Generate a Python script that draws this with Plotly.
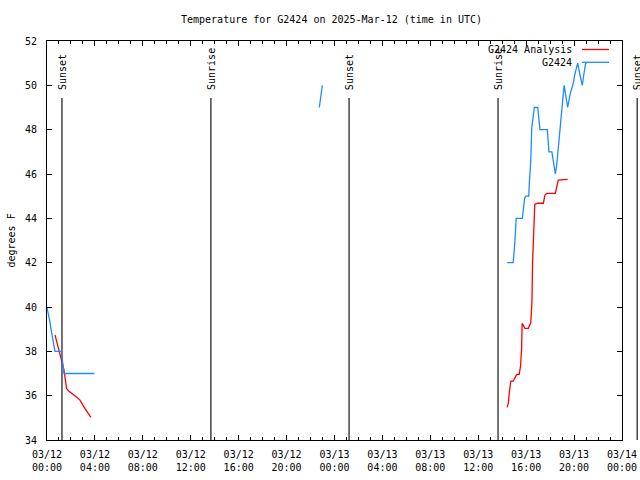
import plotly.graph_objects as go
from datetime import datetime, timedelta

# ---------------- data ----------------
title_text = "Temperature for G2424 on 2025-Mar-12 (time in UTC)"
x_start = "2025-03-12 00:00"
x_end = "2025-03-14 00:00"
y_range = [34, 52]

obs_seg1_t = ["2025-03-12 00:00", "2025-03-12 00:05", "2025-03-12 00:10", "2025-03-12 00:15",
              "2025-03-12 00:20", "2025-03-12 00:25", "2025-03-12 00:30", "2025-03-12 00:35",
              "2025-03-12 00:40", "2025-03-12 01:12", "2025-03-12 01:18", "2025-03-12 01:25",
              "2025-03-12 03:57"]
obs_seg1_v = [40.0, 39.8, 39.5, 39.3, 39.0, 38.7, 38.4, 38.1, 38.0, 38.0, 37.6, 37.0, 37.0]

obs_seg2_t = ["2025-03-12 22:44", "2025-03-12 22:49", "2025-03-12 22:54", "2025-03-12 22:59"]
obs_seg2_v = [49.0, 49.4, 49.7, 50.0]

obs_seg3_t = ["2025-03-13 14:25", "2025-03-13 14:55", "2025-03-13 15:04", "2025-03-13 15:10",
              "2025-03-13 15:41", "2025-03-13 15:52", "2025-03-13 15:58", "2025-03-13 16:13",
              "2025-03-13 16:16", "2025-03-13 16:23", "2025-03-13 16:28", "2025-03-13 16:41",
              "2025-03-13 16:58", "2025-03-13 17:09", "2025-03-13 17:46", "2025-03-13 17:54",
              "2025-03-13 18:09", "2025-03-13 18:16", "2025-03-13 18:26", "2025-03-13 18:33",
              "2025-03-13 18:44", "2025-03-13 19:03", "2025-03-13 19:10", "2025-03-13 19:19",
              "2025-03-13 19:28", "2025-03-13 19:40", "2025-03-13 19:56", "2025-03-13 20:04",
              "2025-03-13 20:18", "2025-03-13 20:29", "2025-03-13 20:41", "2025-03-13 20:49",
              "2025-03-13 20:58", "2025-03-13 21:03"]
obs_seg3_v = [42.0, 42.0, 43.0, 44.0, 44.0, 44.9, 45.0, 45.0, 45.6, 46.6, 48.1, 49.0,
              49.0, 48.0, 48.0, 47.0, 47.0, 46.6, 46.0, 46.4, 47.5, 49.5, 50.0, 49.5,
              49.0, 49.6, 50.1, 50.5, 51.0, 50.5, 50.0, 50.5, 51.0, 51.0]

ana_seg1_t = ["2025-03-12 00:40", "2025-03-12 01:25", "2025-03-12 01:38", "2025-03-12 01:47",
              "2025-03-12 02:29", "2025-03-12 02:45", "2025-03-12 03:10", "2025-03-12 03:40"]
ana_seg1_v = [38.74, 37.16, 36.33, 36.22, 35.93, 35.8, 35.43, 35.02]

ana_seg2_t = ["2025-03-13 14:25", "2025-03-13 14:31", "2025-03-13 14:35", "2025-03-13 14:43",
              "2025-03-13 14:55", "2025-03-13 15:13", "2025-03-13 15:25", "2025-03-13 15:32",
              "2025-03-13 15:37", "2025-03-13 15:40", "2025-03-13 15:54", "2025-03-13 16:11",
              "2025-03-13 16:23", "2025-03-13 16:29", "2025-03-13 16:32", "2025-03-13 16:38",
              "2025-03-13 16:43", "2025-03-13 16:56", "2025-03-13 17:26", "2025-03-13 17:34",
              "2025-03-13 17:43", "2025-03-13 18:26", "2025-03-13 18:33", "2025-03-13 18:41",
              "2025-03-13 19:28"]
ana_seg2_v = [35.47, 35.68, 36.1, 36.66, 36.66, 36.96, 36.96, 37.34, 38.09, 39.26, 39.04,
              39.04, 39.29, 40.24, 41.97, 43.70, 44.63, 44.68, 44.68, 45.05, 45.13, 45.13,
              45.43, 45.73, 45.76]

sun_event_times = ["2025-03-12 01:15", "2025-03-12 13:41", "2025-03-13 01:13",
                   "2025-03-13 13:39", "2025-03-14 01:16"]
sun_event_labels = ["Sunset", "Sunrise", "Sunset", "Sunrise", "Sunset"]

series_names = ["G2424 Analysis", "G2424"]
series_colors = ["#ff0000", "#1e8cff"]

# ---------------- figure ----------------
FONT = "DejaVu Sans Mono"
W, H = 640, 480
left_px, right_px, top_px, bottom_px = 47, 622, 41, 440
dom0, dom1 = left_px / W, right_px / W

def join(*segs):
    xs, ys = [], []
    for i, (t, v) in enumerate(segs):
        if i:
            xs.append(None)
            ys.append(None)
        xs += t
        ys += v
    return xs, ys

ax_x, ax_y = join((ana_seg1_t, ana_seg1_v), (ana_seg2_t, ana_seg2_v))
ob_x, ob_y = join((obs_seg1_t, obs_seg1_v), (obs_seg2_t, obs_seg2_v), (obs_seg3_t, obs_seg3_v))

fig = go.Figure()
# full-width helper axis sharing the same time scale (for events beyond the frame)
t0 = datetime.fromisoformat(x_start)
t1 = datetime.fromisoformat(x_end)
span = (t1 - t0) / (dom1 - dom0)
x2_range = [(t0 - span * dom0).isoformat(sep=" "), (t1 + span * (1 - dom1)).isoformat(sep=" ")]
fig.add_trace(go.Scatter(x=[x_start], y=[None], xaxis="x2", yaxis="y", showlegend=False,
                         hoverinfo="skip", mode="lines"))

fig.add_trace(go.Scatter(x=ax_x, y=ax_y, mode="lines", name=series_names[0],
                         line=dict(color=series_colors[0], width=1.3), connectgaps=False))
fig.add_trace(go.Scatter(x=ob_x, y=ob_y, mode="lines", name=series_names[1],
                         line=dict(color=series_colors[1], width=1.3), connectgaps=False))

shapes = []
annotations = []
for t, lab in zip(sun_event_times, sun_event_labels):
    shapes.append(dict(type="line", xref="x2", yref="y domain", x0=t, x1=t, y0=0, y1=0.857,
                       line=dict(color="black", width=1.1), layer="below"))
    annotations.append(dict(xref="x2", yref="y domain", x=t, y=0.872, text=lab, textangle=-90,
                            showarrow=False, xanchor="center", yanchor="bottom",
                            font=dict(family=FONT, size=10, color="black")))

# legend (text right of frame top, sample line on the right)
leg_text_x = 574 / W
leg_line = (582 / W, 609 / W)
leg_y = [(bottom_px - 49.5) / (bottom_px - top_px), (bottom_px - 62.3) / (bottom_px - top_px)]
for name, col, yy in zip(series_names, series_colors, leg_y):
    annotations.append(dict(xref="paper", yref="paper", x=leg_text_x, y=yy, text=name,
                            showarrow=False, xanchor="right", yanchor="middle",
                            font=dict(family=FONT, size=10, color="black")))
    shapes.append(dict(type="line", xref="paper", yref="paper", x0=leg_line[0], x1=leg_line[1],
                       y0=yy, y1=yy, line=dict(color=col, width=1.3)))

# y-axis title
annotations.append(dict(xref="paper", yref="paper", x=11 / W, y=0.5, text="degrees F",
                        textangle=-90, showarrow=False, xanchor="center", yanchor="middle",
                        font=dict(family=FONT, size=10, color="black")))

fig.update_layout(
    width=W, height=H,
    margin=dict(l=0, r=0, t=top_px, b=H - bottom_px, pad=0),
    paper_bgcolor="white", plot_bgcolor="rgba(0,0,0,0)",
    showlegend=False,
    font=dict(family=FONT, size=10, color="black"),
    title=dict(text=title_text, x=331.5 / W, xanchor="center", y=1 - 19 / H, yanchor="middle",
               font=dict(family=FONT, size=10, color="black")),
    xaxis=dict(type="date", range=[x_start, x_end], domain=[dom0, dom1], anchor="y",
               tickformat="%m/%d<br>%H:%M", tick0=x_start, dtick=4 * 3600 * 1000,
               ticks="inside", ticklen=5, tickcolor="black", tickwidth=1,
               minor=dict(dtick=3600 * 1000, ticks="inside", ticklen=3, tickcolor="black",
                          showgrid=False),
               showline=True, linecolor="black", linewidth=1, mirror="allticks",
               showgrid=False, zeroline=False, automargin=False, ticklabelstandoff=5,
               tickfont=dict(family=FONT, size=10, color="black")),
    xaxis2=dict(type="date", range=x2_range, domain=[0, 1], anchor="y", visible=False,
                showgrid=False, zeroline=False),
    yaxis=dict(range=y_range, dtick=2, anchor="x", domain=[0, 1],
               ticks="inside", ticklen=5, tickcolor="black", tickwidth=1,
               showline=True, linecolor="black", linewidth=1, mirror="ticks",
               showgrid=False, zeroline=False, automargin=False, ticklabelstandoff=7,
               tickfont=dict(family=FONT, size=10, color="black")),
    shapes=shapes,
    annotations=annotations,
)

fig.write_html("out.html", config={"displayModeBar": False},
               post_script="document.body.style.margin='0';")
